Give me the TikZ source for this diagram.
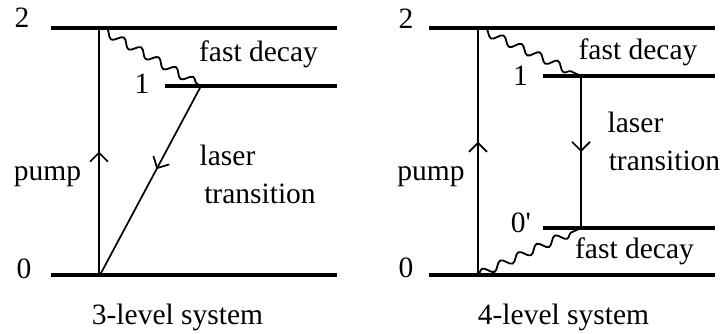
\documentclass[tikz,border=0pt]{standalone}
\usepackage{fontspec}
\setmainfont{Liberation Serif}
\usetikzlibrary{decorations.pathmorphing,decorations.markings,arrows.meta}
\begin{document}
\begin{tikzpicture}[x=1pt,y=-1pt,
  level/.style={line width=3.6pt},
  trans/.style={line width=1.7pt, postaction={decorate},
    decoration={markings, mark=at position #1 with {\arrow{Straight Barb[length=9pt,width=18pt]}}}},
  wavy/.style={line width=1.8pt, decorate,
    decoration={snake, amplitude=4pt, segment length=20pt, post length=3pt}},
  lbl/.style={font=\fontsize{29.5}{34}\selectfont, inner sep=0pt, anchor=base}]
\useasboundingbox (0,0) rectangle (723,333);
% ---- 3-level system ----
\coordinate (L2a) at (51,28);  \coordinate (L2b) at (337,28);
\coordinate (L1a) at (165,86); \coordinate (L1b) at (337,86);
\coordinate (L0a) at (51,275); \coordinate (L0b) at (337,275);
\coordinate (Lp0) at (99,275); \coordinate (Lp2) at (99,28);
\coordinate (Lx1) at (201,86); \coordinate (Lx0) at (100,275);
\draw[level] (L2a) -- (L2b);
\draw[level] (L1a) -- (L1b);
\draw[level] (L0a) -- (L0b);
\draw[trans=0.5] (Lp0) -- (Lp2);
\draw[trans=0.44] (Lx1) -- (Lx0);
\draw[wavy] (Lp2) -- (Lx1);
\node[lbl] (l2) at (22,27) {2};
\node[lbl] (l1) at (142,93) {1};
\node[lbl] (l0) at (24,278) {0};
\node[lbl] (lpump) at (47.5,180) {pump};
\node[lbl] (lfast) at (258.5,61) {fast decay};
\node[lbl] (llaser) at (227.5,165) {laser};
\node[lbl] (ltrans) at (260,203) {transition};
\node[lbl] (lcap) at (177.5,324) {3-level system};
% ---- 4-level system ----
\coordinate (R2a) at (429,28);   \coordinate (R2b) at (715,28);
\coordinate (R1a) at (543,76);   \coordinate (R1b) at (715,76);
\coordinate (R0pa) at (543,228); \coordinate (R0pb) at (715,228);
\coordinate (R0a) at (429,275);  \coordinate (R0b) at (715,275);
\coordinate (Rp0) at (478,275);  \coordinate (Rp2) at (478,28);
\coordinate (Rx1) at (581,76);   \coordinate (Rx0) at (581,228);
\draw[level] (R2a) -- (R2b);
\draw[level] (R1a) -- (R1b);
\draw[level] (R0pa) -- (R0pb);
\draw[level] (R0a) -- (R0b);
\draw[trans=0.54] (Rp0) -- (Rp2);
\draw[trans=0.5] (Rx1) -- (Rx0);
\draw[wavy] (Rp2) -- (Rx1);
\draw[wavy] (Rp0) -- (Rx0);
\node[lbl] (r2) at (406,28) {2};
\node[lbl] (r1) at (520.5,85) {1};
\node[lbl] (r0p) at (521,232) {0\textquotesingle};
\node[lbl] (r0) at (406,277) {0};
\node[lbl] (rpump) at (431,180) {pump};
\node[lbl] (rfast1) at (638,59) {fast decay};
\node[lbl] (rlaser) at (635.5,132) {laser};
\node[lbl] (rtrans) at (664.5,170) {transition};
\node[lbl] (rfast2) at (634.5,258) {fast decay};
\node[lbl] (rcap) at (563.5,324) {4-level system};
\end{tikzpicture}
\end{document}
